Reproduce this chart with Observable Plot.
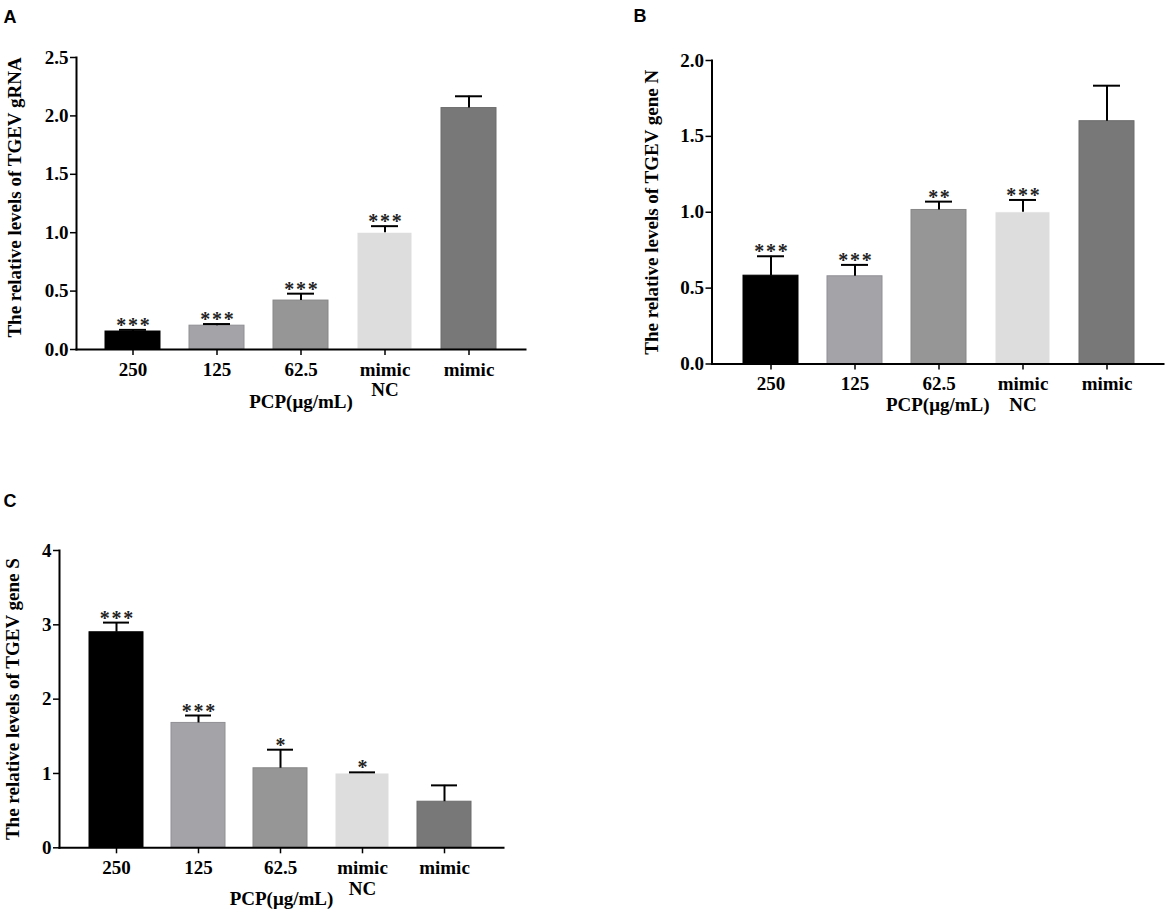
<!DOCTYPE html>
<html>
<head>
<meta charset="utf-8">
<script src="https://cdn.jsdelivr.net/npm/d3@7"></script>
<script src="https://cdn.jsdelivr.net/npm/@observablehq/plot@0.6"></script>
<style>
  html, body { margin: 0; padding: 0; background: #ffffff; }
  #root { position: relative; width: 1170px; height: 914px; background: #ffffff; overflow: hidden; }
  #root svg { position: absolute; }
</style>
</head>
<body>
<div id="root"></div>
<script>
// ---- data ----
const categories = ["250", "125", "62.5", "mimic NC", "mimic"];
const categoryLabels = ["250", "125", "62.5", "mimic\nNC", "mimic"];
const barColors = ["#000000", "#a4a3a8", "#969696", "#dddddd", "#787878"];
const barStrokes = ["#000000", "#908f94", "#878787", "#ffffff", "#6c6c6c"];

const gRNAMean  = [0.154, 0.204, 0.419, 1.000, 2.067];
const gRNAUpper = [0.168, 0.218, 0.478, 1.056, 2.168];
const gRNAStars = ["***", "***", "***", "***", ""];

const geneNMean  = [0.582, 0.578, 1.015, 1.000, 1.600];
const geneNUpper = [0.710, 0.653, 1.070, 1.081, 1.834];
const geneNStars = ["***", "***", "**", "***", ""];

const geneSMean  = [2.90, 1.68, 1.07, 1.00, 0.62];
const geneSUpper = [3.03, 1.78, 1.32, 1.015, 0.84];
const geneSStars = ["***", "***", "*", "*", ""];

const yTicksA = [0, 0.5, 1, 1.5, 2, 2.5];
const yTicksB = [0, 0.5, 1, 1.5, 2];
const yTicksC = [0, 1, 2, 3, 4];

const titleA = "The relative levels of TGEV gRNA";
const titleB = "The relative levels of TGEV gene N";
const titleC = "The relative levels of TGEV gene S";
const xTitle = "PCP(μg/mL)";

// ---- drawing ----
const serif = '"Liberation Serif", "Times New Roman", Times, serif';
const labelOf = Object.fromEntries(categories.map((c, i) => [c, categoryLabels[i]]));

function panel(o) {
  const rows = categories.map((c, i) => ({
    cat: c, mean: o.mean[i], upper: o.upper[i], star: o.stars[i],
    color: barColors[i], stroke: barStrokes[i]
  }));
  const svg = Plot.plot({
    width: o.width, height: o.height,
    marginLeft: o.ml, marginRight: o.mr, marginTop: o.mt, marginBottom: o.mb,
    style: { fontFamily: serif, fontSize: "19px", fontWeight: "bold", color: "#000", background: "transparent", overflow: "visible" },
    x: { type: "band", domain: categories, paddingInner: 0.34, paddingOuter: 0.17, insetLeft: o.insetL, insetRight: o.insetR, label: null },
    y: { domain: o.yDomain, label: null },
    marks: [
      Plot.barY(rows, { x: "cat", y: "mean", fill: "color", stroke: "stroke", strokeWidth: 1 }),
      Plot.ruleX(rows, { x: "cat", y1: "mean", y2: "upper", stroke: "#000", strokeWidth: 2 }),
      Plot.tickY(rows, { x: "cat", y: "upper", stroke: "#000", strokeWidth: 2, insetLeft: 14, insetRight: 14 }),
      Plot.text(rows, { x: "cat", y: "upper", text: d => d.star.split("").join("\u200a"), lineAnchor: "bottom", dy: 2, fontSize: 20, fill: "#222" }),
      Plot.axisX({ tickFormat: d => labelOf[d], tickSize: 6, tickPadding: 6, strokeWidth: 1.5, lineHeight: 1.07, fontSize: 19, label: null }),
      Plot.axisY({ ticks: o.yTicks, tickFormat: o.fmt, tickSize: 6, tickPadding: 2, strokeWidth: 1.5, fontSize: 19, label: null }),
      Plot.frame({ anchor: "left", stroke: "#000", strokeWidth: 2 }),
      Plot.frame({ anchor: "bottom", stroke: "#000", strokeWidth: 2 }),
      Plot.text([o.title], { text: d => d, frameAnchor: "left", rotate: -90, dx: o.titleDx, dy: o.titleDy, lineAnchor: "bottom", textAnchor: "middle", fontSize: 19 }),
      Plot.text([xTitle], { text: d => d, frameAnchor: "bottom", dy: o.xTitleDy, lineAnchor: "bottom", textAnchor: "middle", fontSize: 19 }),
      Plot.text([o.letter], { text: d => d, frameAnchor: "top-left", dx: o.letterDx, dy: o.letterDy, lineAnchor: "bottom", textAnchor: "start", fontSize: 18, fontFamily: '"Liberation Sans", Arial, sans-serif' })
    ]
  });
  svg.style.left = o.left + "px";
  svg.style.top = o.top + "px";
  document.getElementById("root").appendChild(svg);
}

const fmt1 = d3.format(".1f");
const fmt0 = d3.format("d");

panel({
  mean: gRNAMean, upper: gRNAUpper, stars: gRNAStars, yDomain: [0, 2.5], yTicks: yTicksA, fmt: fmt1,
  title: titleA, letter: "A",
  left: 0, top: 0, width: 560, height: 430, ml: 76, mr: 35, mt: 57, mb: 81,
  insetL: 14, insetR: 13.5, titleDx: -55.5, titleDy: -6, xTitleDy: 58, letterDx: -73, letterDy: -35
});

panel({
  mean: geneNMean, upper: geneNUpper, stars: geneNStars, yDomain: [0, 2], yTicks: yTicksB, fmt: fmt1,
  title: titleB, letter: "B",
  left: 580, top: 0, width: 590, height: 430, ml: 131.5, mr: 7, mt: 60, mb: 66.5,
  insetL: 15.5, insetR: 12, titleDx: -54.5, titleDy: 0, xTitleDy: 47, letterDx: -78.5, letterDy: -39
});

panel({
  mean: geneSMean, upper: geneSUpper, stars: geneSStars, yDomain: [0, 4], yTicks: yTicksC, fmt: fmt0,
  title: titleC, letter: "C",
  left: 0, top: 460, width: 560, height: 454, ml: 59, mr: 57, mt: 90, mb: 66.7,
  insetL: 13.7, insetR: 15.7, titleDx: -41, titleDy: 0, xTitleDy: 57, letterDx: -56, letterDy: -44
});
</script>
</body>
</html>
